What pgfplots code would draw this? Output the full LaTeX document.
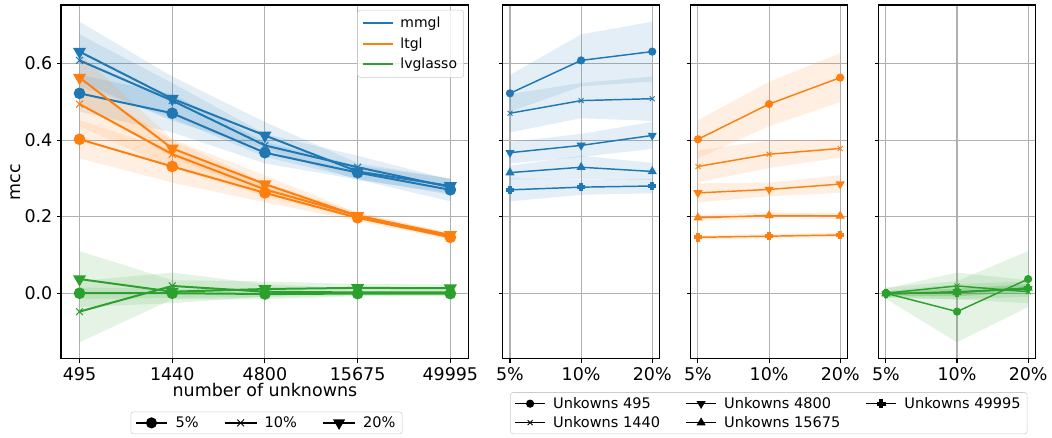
\documentclass[border=0pt]{standalone}
\usepackage{fontspec}
\setmainfont{DejaVu Sans}
\usepackage{pgfplots}
\pgfplotsset{compat=1.18}
\usepackage{pgfplotstable}
\usepgfplotslibrary{fillbetween}

\definecolor{tabblue}{HTML}{1F77B4}
\definecolor{taborange}{HTML}{FF7F0E}
\definecolor{tabgreen}{HTML}{2CA02C}
\definecolor{gridgray}{HTML}{B0B0B0}
\definecolor{legframe}{HTML}{CCCCCC}

\pgfdeclareplotmark{Pfill}{%
 \pgfpathmoveto{\pgfpoint{-0.4\pgfplotmarksize}{\pgfplotmarksize}}%
 \pgfpathlineto{\pgfpoint{0.4\pgfplotmarksize}{\pgfplotmarksize}}%
 \pgfpathlineto{\pgfpoint{0.4\pgfplotmarksize}{0.4\pgfplotmarksize}}%
 \pgfpathlineto{\pgfpoint{\pgfplotmarksize}{0.4\pgfplotmarksize}}%
 \pgfpathlineto{\pgfpoint{\pgfplotmarksize}{-0.4\pgfplotmarksize}}%
 \pgfpathlineto{\pgfpoint{0.4\pgfplotmarksize}{-0.4\pgfplotmarksize}}%
 \pgfpathlineto{\pgfpoint{0.4\pgfplotmarksize}{-\pgfplotmarksize}}%
 \pgfpathlineto{\pgfpoint{-0.4\pgfplotmarksize}{-\pgfplotmarksize}}%
 \pgfpathlineto{\pgfpoint{-0.4\pgfplotmarksize}{-0.4\pgfplotmarksize}}%
 \pgfpathlineto{\pgfpoint{-\pgfplotmarksize}{-0.4\pgfplotmarksize}}%
 \pgfpathlineto{\pgfpoint{-\pgfplotmarksize}{0.4\pgfplotmarksize}}%
 \pgfpathlineto{\pgfpoint{-0.4\pgfplotmarksize}{0.4\pgfplotmarksize}}%
 \pgfpathclose
 \pgfusepathqfillstroke
}

% mean and std by number of unknowns (rows) for each missing percentage
\pgfplotstableread{
x m5 s5 m10 s10 m20 s20
0 0.522 0.048 0.608 0.068 0.631 0.078
1 0.470 0.050 0.503 0.046 0.508 0.058
2 0.367 0.028 0.386 0.030 0.412 0.035
3 0.315 0.018 0.329 0.030 0.318 0.022
4 0.270 0.030 0.277 0.020 0.280 0.019
}\mmglU
\pgfplotstableread{
x m5 s5 m10 s10 m20 s20
0 0.402 0.050 0.494 0.058 0.563 0.064
1 0.331 0.042 0.363 0.036 0.378 0.024
2 0.262 0.025 0.271 0.018 0.285 0.023
3 0.197 0.008 0.203 0.008 0.202 0.008
4 0.146 0.006 0.149 0.006 0.152 0.006
}\ltglU
\pgfplotstableread{
x m5 s5 m10 s10 m20 s20
0 0.000 0.015 -0.048 0.080 0.037 0.073
1 0.000 0.012 0.019 0.035 0.004 0.030
2 -0.002 0.008 0.004 0.020 0.011 0.020
3 -0.001 0.005 0.002 0.010 0.014 0.010
4 -0.001 0.005 0.002 0.010 0.013 0.010
}\lvgU
% same values by missing percentage (rows) for each number of unknowns
\pgfplotstableread{
x a sa b sb c sc d sd e se
0 0.522 0.048 0.470 0.050 0.367 0.028 0.315 0.018 0.270 0.030
1 0.608 0.068 0.503 0.046 0.386 0.030 0.329 0.030 0.277 0.020
2 0.631 0.078 0.508 0.058 0.412 0.035 0.318 0.022 0.280 0.019
}\mmglP
\pgfplotstableread{
x a sa b sb c sc d sd e se
0 0.402 0.050 0.331 0.042 0.262 0.025 0.197 0.008 0.146 0.006
1 0.494 0.058 0.363 0.036 0.271 0.018 0.203 0.008 0.149 0.006
2 0.563 0.064 0.378 0.024 0.285 0.023 0.202 0.008 0.152 0.006
}\ltglP
\pgfplotstableread{
x a sa b sb c sc d sd e se
0 0.000 0.015 0.000 0.012 -0.002 0.008 -0.001 0.005 -0.001 0.005
1 -0.048 0.080 0.019 0.035 0.004 0.020 0.002 0.010 0.002 0.010
2 0.037 0.073 0.004 0.030 0.011 0.020 0.014 0.010 0.013 0.010
}\lvgP

\newcommand{\band}[5]{%
 \addplot[draw=none, forget plot, name path=U#5] table[x=x, y expr=\thisrow{#2}+\thisrow{#3}] {#1};
 \addplot[draw=none, forget plot, name path=L#5] table[x=x, y expr=\thisrow{#2}-\thisrow{#3}] {#1};
 \addplot[fill=#4, fill opacity=0.12, draw=none, forget plot] fill between[of=U#5 and L#5];
}

\pgfplotsset{
 panel/.style={
  scale only axis, height=265.5pt, anchor=south west,
  ymin=-0.1715, ymax=0.7527,
  ytick={0,0.2,0.4,0.6},
  grid=major, major grid style={gridgray, line width=0.8pt},
  axis line style={black, line width=0.8pt},
  tick align=outside, tick pos=left, major tick length=3pt,
  major tick style={black, line width=0.8pt},
  tick label style={font=\fontsize{13.1}{15}\selectfont},
  /pgf/number format/assume math mode=true,
 },
 smallpanel/.style={panel, width=117.4pt, xmin=-0.1, xmax=2.1,
  xtick={0,1,2}, xticklabels={5\%,10\%,20\%}, yticklabels={,,,}},
 big/.style={line width=1.5pt},
 sm/.style={line width=1.1pt},
 legaxis/.style={at={(0pt,0pt)}, anchor=south west, scale only axis,
  width=789pt, height=328.5pt, xmin=0, xmax=1052, ymin=0, ymax=438, hide axis},
}

\begin{document}
\begin{tikzpicture}
\path (0,0) rectangle (789pt,328.5pt);

% ---------- panel 1 ----------
\begin{axis}[panel, at={(45.75pt,59.25pt)}, width=306pt,
  xmin=-0.2, xmax=4.2, xtick={0,1,2,3,4},
  xticklabels={495,1440,4800,15675,49995},
  yticklabels={0.0,0.2,0.4,0.6},
  xlabel={number of unknowns}, ylabel={mcc},
  label style={font=\fontsize{13.1}{15}\selectfont},
  xlabel style={at={(rel axis cs:0.5,-0.089)}, anchor=center},
  ylabel style={at={(rel axis cs:-0.11,0.5)}, anchor=center},
  legend style={at={(rel axis cs:0.988,0.986)}, anchor=north east,
    draw=legframe, rounded corners=2pt, fill=white, fill opacity=0.8, text opacity=1,
    font=\fontsize{10.5}{12}\selectfont, row sep=2pt, inner xsep=3pt, inner ysep=3pt,
    /tikz/every odd column/.append style={column sep=3pt}},
  legend cell align=left,
  legend image code/.code={\draw[#1] (0pt,0pt) -- (22.5pt,0pt);},
]
\addlegendimage{tabblue, big}\addlegendentry{mmgl}
\addlegendimage{taborange, big}\addlegendentry{ltgl}
\addlegendimage{tabgreen, big}\addlegendentry{lvglasso}

\band{\mmglU}{m5}{s5}{tabblue}{a1}
\band{\mmglU}{m10}{s10}{tabblue}{a2}
\band{\mmglU}{m20}{s20}{tabblue}{a3}
\band{\ltglU}{m5}{s5}{taborange}{a4}
\band{\ltglU}{m10}{s10}{taborange}{a5}
\band{\ltglU}{m20}{s20}{taborange}{a6}
\band{\lvgU}{m5}{s5}{tabgreen}{a7}
\band{\lvgU}{m10}{s10}{tabgreen}{a8}
\band{\lvgU}{m20}{s20}{tabgreen}{a9}

\addplot[tabblue, big, forget plot, mark=*, mark size=3.6pt] table[x=x,y=m5] {\mmglU};
\addplot[tabblue, big, forget plot, mark=x, mark size=3.6pt, mark options={line width=0.8pt}] table[x=x,y=m10] {\mmglU};
\addplot[tabblue, big, forget plot, mark=triangle*, mark size=4.2pt, mark options={rotate=180}] table[x=x,y=m20] {\mmglU};
\addplot[taborange, big, forget plot, mark=*, mark size=3.6pt] table[x=x,y=m5] {\ltglU};
\addplot[taborange, big, forget plot, mark=x, mark size=3.6pt, mark options={line width=0.8pt}] table[x=x,y=m10] {\ltglU};
\addplot[taborange, big, forget plot, mark=triangle*, mark size=4.2pt, mark options={rotate=180}] table[x=x,y=m20] {\ltglU};
\addplot[tabgreen, big, forget plot, mark=*, mark size=3.6pt] table[x=x,y=m5] {\lvgU};
\addplot[tabgreen, big, forget plot, mark=x, mark size=3.6pt, mark options={line width=0.8pt}] table[x=x,y=m10] {\lvgU};
\addplot[tabgreen, big, forget plot, mark=triangle*, mark size=4.2pt, mark options={rotate=180}] table[x=x,y=m20] {\lvgU};
\end{axis}

% ---------- panels 2-4 ----------
\newcommand{\percentpanel}[3]{%
\begin{axis}[smallpanel, at={(#3,59.25pt)}]
\band{#1}{a}{sa}{#2}{b1}
\band{#1}{b}{sb}{#2}{b2}
\band{#1}{c}{sc}{#2}{b3}
\band{#1}{d}{sd}{#2}{b4}
\band{#1}{e}{se}{#2}{b5}
\addplot[#2, sm, forget plot, mark=*, mark size=2.5pt] table[x=x,y=a] {#1};
\addplot[#2, sm, forget plot, mark=x, mark size=2.6pt, mark options={line width=0.7pt}] table[x=x,y=b] {#1};
\addplot[#2, sm, forget plot, mark=triangle*, mark size=2.9pt, mark options={rotate=180}] table[x=x,y=c] {#1};
\addplot[#2, sm, forget plot, mark=triangle*, mark size=2.9pt] table[x=x,y=d] {#1};
\addplot[#2, sm, forget plot, mark=Pfill, mark size=2.6pt] table[x=x,y=e] {#1};
\end{axis}}
\percentpanel{\mmglP}{tabblue}{377.25pt}
\percentpanel{\ltglP}{taborange}{518.25pt}
\percentpanel{\lvgP}{tabgreen}{659.25pt}

% ---------- bottom legends ----------
\begin{axis}[legaxis,
  legend columns=3,
  legend style={at={(axis cs:266.5,15)}, anchor=center, draw=legframe,
    rounded corners=2pt, font=\fontsize{10.9}{12}\selectfont,
    nodes={inner ysep=1.5pt},
    /tikz/every odd column/.append style={column sep=3.5pt},
    /tikz/every even column/.append style={column sep=17pt}},
  legend image code/.code={\draw[mark repeat=2, mark phase=2, #1] plot coordinates {(0pt,0pt) (12pt,0pt) (24pt,0pt)};},
]
\addplot[draw=none, forget plot] coordinates {(0,0) (1052,438)};
\addlegendimage{black, sm, mark=*, mark size=3.6pt}\addlegendentry{5\%}
\addlegendimage{black, sm, mark=x, mark size=3.6pt, mark options={line width=0.7pt}}\addlegendentry{10\%}
\addlegendimage{black, sm, mark=triangle*, mark size=4.2pt, mark options={rotate=180}}\addlegendentry{20\%}
\end{axis}

\begin{axis}[legaxis,
  legend columns=2, transpose legend,
  legend style={at={(axis cs:769,24.7)}, anchor=center, draw=legframe,
    rounded corners=2pt, font=\fontsize{10.9}{12}\selectfont, row sep=1.5pt,
    nodes={inner ysep=1.5pt},
    /tikz/every odd column/.append style={column sep=3.5pt},
    /tikz/every even column/.append style={column sep=17pt}},
  legend cell align=left,
  legend image code/.code={\draw[mark repeat=2, mark phase=2, #1] plot coordinates {(0pt,0pt) (11.25pt,0pt) (22.5pt,0pt)};},
]
\addplot[draw=none, forget plot] coordinates {(0,0) (1052,438)};
\addlegendimage{black, sm, mark=*, mark size=2.5pt}\addlegendentry{Unkowns 495}
\addlegendimage{black, sm, mark=x, mark size=2.6pt, mark options={line width=0.7pt}}\addlegendentry{Unkowns 1440}
\addlegendimage{black, sm, mark=triangle*, mark size=2.9pt, mark options={rotate=180}}\addlegendentry{Unkowns 4800}
\addlegendimage{black, sm, mark=triangle*, mark size=2.9pt}\addlegendentry{Unkowns 15675}
\addlegendimage{black, sm, mark=Pfill, mark size=2.6pt}\addlegendentry{Unkowns 49995}
\end{axis}
\end{tikzpicture}
\end{document}
